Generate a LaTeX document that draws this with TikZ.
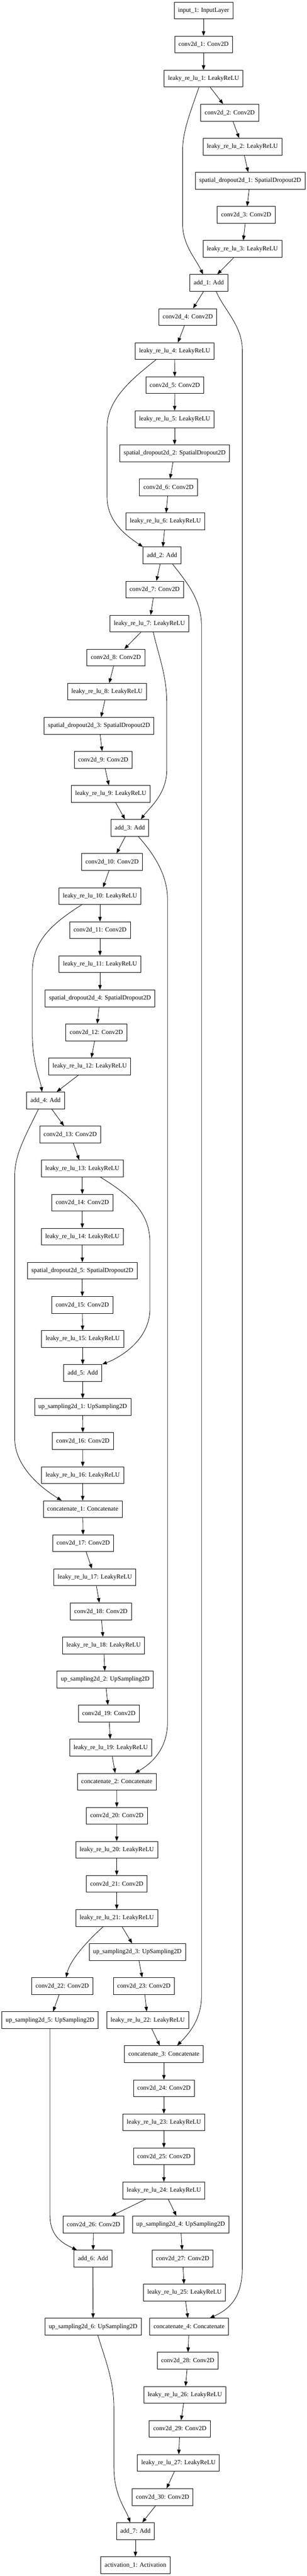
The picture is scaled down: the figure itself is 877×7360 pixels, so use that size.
\documentclass[tikz,border=0pt]{standalone}
\usepackage{fontspec}
\setmainfont{Liberation Serif}
\usetikzlibrary{arrows.meta, calc}

% rank -> y position (px)
\newcommand{\rk}[1]{29.9+97.32*#1}

\begin{document}
\begin{tikzpicture}[x=0.75pt, y=-0.75pt,
  >={Triangle[length=10pt, width=7.5pt]},
  layer/.style={draw, line width=1pt, minimum height=36pt, inner xsep=8.4pt,
    inner ysep=0pt, font=\fontsize{13.5}{16}\selectfont},
  link/.style={->, line width=0.9pt}]
  \useasboundingbox (0,0) rectangle (877,7360);

  % layers
  \foreach \n/\x/\r/\lbl in {
    in1/581.7/0/input\_1: InputLayer,
    c1/581.7/1/conv2d\_1: Conv2D,
    lr1/581.7/2/leaky\_re\_lu\_1: LeakyReLU,
    c2/656.5/3/conv2d\_2: Conv2D,
    lr2/692.6/4/leaky\_re\_lu\_2: LeakyReLU,
    sd1/714.8/5/spatial\_dropout2d\_1: SpatialDropout2D,
    c3/703.4/6/conv2d\_3: Conv2D,
    lr3/692.6/7/leaky\_re\_lu\_3: LeakyReLU,
    add1/596.6/8/add\_1: Add,
    c4/536.6/9/conv2d\_4: Conv2D,
    lr4/499/10/leaky\_re\_lu\_4: LeakyReLU,
    c5/499.4/11/conv2d\_5: Conv2D,
    lr5/499/12/leaky\_re\_lu\_5: LeakyReLU,
    sd2/499/13/spatial\_dropout2d\_2: SpatialDropout2D,
    c6/481.5/14/conv2d\_6: Conv2D,
    lr6/472.6/15/leaky\_re\_lu\_6: LeakyReLU,
    add2/463/16/add\_2: Add,
    c7/441.8/17/conv2d\_7: Conv2D,
    lr7/426.8/18/leaky\_re\_lu\_7: LeakyReLU,
    c8/331/19/conv2d\_8: Conv2D,
    lr8/305.7/20/leaky\_re\_lu\_8: LeakyReLU,
    sd3/283/21/spatial\_dropout2d\_3: SpatialDropout2D,
    c9/295/22/conv2d\_9: Conv2D,
    lr9/316.6/23/leaky\_re\_lu\_9: LeakyReLU,
    add3/371/24/add\_3: Add,
    c10/320.2/25/conv2d\_10: Conv2D,
    lr10/285.8/26/leaky\_re\_lu\_10: LeakyReLU,
    c11/285.8/27/conv2d\_11: Conv2D,
    lr11/285.8/28/leaky\_re\_lu\_11: LeakyReLU,
    sd4/285.8/29/spatial\_dropout2d\_4: SpatialDropout2D,
    c12/275.2/30/conv2d\_12: Conv2D,
    lr12/256.4/31/leaky\_re\_lu\_12: LeakyReLU,
    add4/130/32/add\_4: Add,
    c13/200.6/33/conv2d\_13: Conv2D,
    lr13/235.2/34/leaky\_re\_lu\_13: LeakyReLU,
    c14/235.2/35/conv2d\_14: Conv2D,
    lr14/235.2/36/leaky\_re\_lu\_14: LeakyReLU,
    sd5/235.2/37/spatial\_dropout2d\_5: SpatialDropout2D,
    c15/235.2/38/conv2d\_15: Conv2D,
    lr15/236.3/39/leaky\_re\_lu\_15: LeakyReLU,
    add5/236.5/40/add\_5: Add,
    up1/236.3/41/up\_sampling2d\_1: UpSampling2D,
    c16/236.8/42/conv2d\_16: Conv2D,
    lr16/236.3/43/leaky\_re\_lu\_16: LeakyReLU,
    cat1/236.3/44/concatenate\_1: Concatenate,
    c17/237.7/45/conv2d\_17: Conv2D,
    lr17/271/46/leaky\_re\_lu\_17: LeakyReLU,
    c18/288.3/47/conv2d\_18: Conv2D,
    lr18/296.2/48/leaky\_re\_lu\_18: LeakyReLU,
    up2/300.6/49/up\_sampling2d\_2: UpSampling2D,
    c19/311/50/conv2d\_19: Conv2D,
    lr19/316.3/51/leaky\_re\_lu\_19: LeakyReLU,
    cat2/333.6/52/concatenate\_2: Concatenate,
    c20/333.8/53/conv2d\_20: Conv2D,
    lr20/333.6/54/leaky\_re\_lu\_20: LeakyReLU,
    c21/333.6/55/conv2d\_21: Conv2D,
    lr21/333.6/56/leaky\_re\_lu\_21: LeakyReLU,
    up3/392.4/57/up\_sampling2d\_3: UpSampling2D,
    c22/177.9/58/conv2d\_22: Conv2D,
    c23/411.1/58/conv2d\_23: Conv2D,
    up5/142.9/59/up\_sampling2d\_5: UpSampling2D,
    lr22/422/59/leaky\_re\_lu\_22: LeakyReLU,
    cat3/468.4/60/concatenate\_3: Concatenate,
    c24/468.4/61/conv2d\_24: Conv2D,
    lr23/468.4/62/leaky\_re\_lu\_23: LeakyReLU,
    c25/468.4/63/conv2d\_25: Conv2D,
    lr24/468.4/64/leaky\_re\_lu\_24: LeakyReLU,
    c26/267.3/65/conv2d\_26: Conv2D,
    up4/516.2/65/up\_sampling2d\_4: UpSampling2D,
    add6/265.7/66/add\_6: Add,
    c27/521.8/66/conv2d\_27: Conv2D,
    lr25/527.1/67/leaky\_re\_lu\_25: LeakyReLU,
    up6/266/68/up\_sampling2d\_6: UpSampling2D,
    cat4/540.2/68/concatenate\_4: Concatenate,
    c28/536.4/69/conv2d\_28: Conv2D,
    lr26/528.3/70/leaky\_re\_lu\_26: LeakyReLU,
    c29/514/71/conv2d\_29: Conv2D,
    lr27/509.8/72/leaky\_re\_lu\_27: LeakyReLU,
    c30/464.6/73/conv2d\_30: Conv2D,
    add7/387/74/add\_7: Add,
    act1/387/75/activation\_1: Activation}
    \node[layer] (\n) at (\x,{\rk{\r}}) {\lbl};

  % main flow
  \foreach \a/\b in {in1/c1, c1/lr1, lr1/c2, c2/lr2, lr2/sd1, sd1/c3, c3/lr3,
    lr3/add1, add1/c4, c4/lr4, lr4/c5, c5/lr5, lr5/sd2, sd2/c6, c6/lr6,
    lr6/add2, add2/c7, c7/lr7, lr7/c8, c8/lr8, lr8/sd3, sd3/c9, c9/lr9,
    lr9/add3, add3/c10, c10/lr10, lr10/c11, c11/lr11, lr11/sd4, sd4/c12,
    c12/lr12, lr12/add4, add4/c13, c13/lr13, lr13/c14, c14/lr14, lr14/sd5,
    sd5/c15, c15/lr15, lr15/add5, add5/up1, up1/c16, c16/lr16, lr16/cat1,
    cat1/c17, c17/lr17, lr17/c18, c18/lr18, lr18/up2, up2/c19, c19/lr19,
    lr19/cat2, cat2/c20, c20/lr20, lr20/c21, c21/lr21, lr21/up3, up3/c23,
    c23/lr22, lr22/cat3, cat3/c24, c24/lr23, lr23/c25, c25/lr24, lr24/c26,
    lr24/up4, c22/up5, c26/add6, up4/c27, c27/lr25, add6/up6, lr25/cat4,
    cat4/c28, c28/lr26, lr26/c29, c29/lr27, lr27/c30, c30/add7, add7/act1}
    \draw[link] (\a) -- (\b);

  % skip connections
  \draw[link] ($(lr1.south)+(-13,0)$) .. controls (540,330) and (521.8,380) .. (521.8,430)
    -- (521.8,640) .. controls (521.8,700) and (560,740) .. ($(add1.north)+(-16.6,0)$);
  \draw[link] ($(add1.south)+(21.4,0)$) .. controls (640,885) and (692.4,930) .. (692.4,1000)
    -- (692.4,6480) .. controls (692.4,6570) and (650,6600) .. ($(cat4.north)+(59.4,0)$);
  \draw[link] ($(lr4.south)+(-53,0)$) .. controls (380,1080) and (306,1140) .. (306,1220)
    -- (306,1420) .. controls (306,1490) and (360,1530) .. ($(add2.north)+(-54.7,0)$);
  \draw[link] ($(add2.south)+(30.3,0)$) .. controls (530,1660) and (576,1710) .. (576,1790)
    -- (576,5700) .. controls (576,5770) and (540,5810) .. ($(cat3.north)+(37.8,0)$);
  \draw[link] ($(lr7.south)+(11.2,0)$) .. controls (455,1880) and (476.5,1930) .. (476.5,2010)
    -- (476.5,2200) .. controls (476.5,2270) and (425,2310) .. ($(add3.north)+(31.7,0)$);
  \draw[link] ($(add3.south)+(24.4,0)$) .. controls (440,2440) and (478.8,2500) .. (478.8,2570)
    -- (478.8,4920) .. controls (478.8,5000) and (430,5040) .. ($(cat2.north)+(52.3,0)$);
  \draw[link] ($(lr10.south)+(-52,0)$) .. controls (130,2650) and (92.3,2700) .. (92.3,2780)
    -- (92.3,2950) .. controls (92.3,3040) and (114,3080) .. ($(add4.north)+(-9.8,0)$);
  \draw[link] ($(add4.south)+(-20,0)$) .. controls (70,3250) and (42,3300) .. (42,3360)
    -- (42,4110) .. controls (42,4180) and (100,4240) .. ($(cat1.north)+(-60,0)$);
  \draw[link] ($(lr13.south)+(51.8,0)$) .. controls (380,3420) and (428.4,3470) .. (428.4,3550)
    -- (428.4,3740) .. controls (428.4,3830) and (340,3880) .. ($(add5.north)+(55.5,0)$);
  \draw[link] ($(lr21.south)+(-38.3,0)$) .. controls (250,5545) and (200,5600) .. ($(c22.north)+(11,0)$);
  \draw[link] (up5.south) -- (142.9,6330) .. controls (142.9,6390) and (180,6410) .. ($(add6.north)+(-46,0)$);
  \draw[link] ($(up6.south)+(13.6,0)$) .. controls (300,6740) and (325.5,6800) .. (325.5,6880)
    -- (325.5,7050) .. controls (325.5,7130) and (360,7170) .. ($(add7.north)+(-15,0)$);
\end{tikzpicture}
\end{document}
